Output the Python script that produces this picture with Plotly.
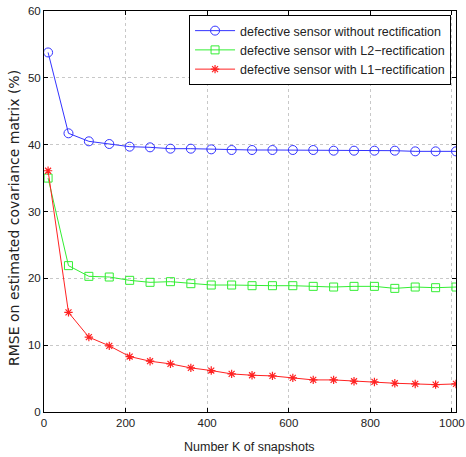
import plotly.graph_objects as go

K = [10, 60, 110, 160, 210, 260, 310, 360, 410, 460, 510, 560, 610, 660, 710, 760, 810, 860, 910, 960, 1010]
no_rect = [53.8, 41.7, 40.5, 40.1, 39.7, 39.6, 39.4, 39.4, 39.3, 39.2, 39.2, 39.2, 39.2, 39.2, 39.1, 39.1, 39.1, 39.1, 39.0, 39.0, 39.0]
l2_rect = [35.0, 21.9, 20.3, 20.2, 19.7, 19.4, 19.5, 19.2, 19.0, 19.0, 18.9, 18.9, 18.9, 18.8, 18.7, 18.8, 18.8, 18.5, 18.7, 18.6, 18.7]
l1_rect = [36.1, 14.9, 11.2, 9.9, 8.3, 7.6, 7.2, 6.6, 6.2, 5.7, 5.5, 5.4, 5.1, 4.8, 4.8, 4.6, 4.5, 4.3, 4.2, 4.1, 4.2]

names = ["defective sensor without rectification",
         "defective sensor with L2\u2212rectification",
         "defective sensor with L1\u2212rectification"]
x_ticks = [0, 200, 400, 600, 800, 1000]
y_ticks = [0, 10, 20, 30, 40, 50, 60]
x_title = "Number K of snapshots"
y_title = "RMSE on estimated covariance matrix (%)"

fig = go.Figure()
fig.add_trace(go.Scatter(x=K, y=no_rect, name=names[0], mode="lines+markers",
                         line=dict(color="#3333ff", width=1),
                         marker=dict(symbol="circle-open", size=9, color="#3333ff", line=dict(width=1))))
fig.add_trace(go.Scatter(x=K, y=l2_rect, name=names[1], mode="lines+markers",
                         line=dict(color="#33ee33", width=1),
                         marker=dict(symbol="square-open", size=8, color="#33ee33", line=dict(width=1))))
fig.add_trace(go.Scatter(x=K, y=l1_rect, name=names[2], mode="lines+markers",
                         line=dict(color="#ff2222", width=1),
                         marker=dict(symbol="asterisk-open", size=7, color="#ff2222", line=dict(width=1.2, color="#ff2222"))))

axis_common = dict(showline=True, linecolor="black", linewidth=1, mirror="ticks",
                   ticks="inside", ticklen=4, tickcolor="black", automargin=False,
                   showgrid=True, gridcolor="#c8c8c8", griddash="dot", gridwidth=1,
                   zeroline=False, tickfont=dict(size=11.5, color="#222"))

fig.update_layout(
    width=466, height=457,
    margin=dict(l=44, r=10, t=11, b=45),
    paper_bgcolor="white", plot_bgcolor="white",
    font=dict(family="Liberation Sans, Arial, sans-serif", color="#222"),
    xaxis=dict(range=[0, 1010], tickvals=x_ticks, **axis_common),
    yaxis=dict(range=[0, 60], tickvals=y_ticks, **axis_common),
    legend=dict(x=0.988, y=0.99, xanchor="right", yanchor="top",
                bordercolor="black", borderwidth=1, bgcolor="white",
                font=dict(size=12.5, color="#222"), tracegroupgap=0, itemwidth=40),
    showlegend=True,
    annotations=[
        dict(text=x_title, xref="paper", yref="paper", x=0.4976, y=-0.0865,
             xanchor="center", yanchor="middle", showarrow=False,
             font=dict(size=12.5, color="#222")),
        dict(text=y_title, xref="paper", yref="paper", x=-0.0728, y=0.4838,
             xanchor="center", yanchor="middle", textangle=-90, showarrow=False,
             font=dict(family="DejaVu Sans", size=14, color="#222")),
    ],
)

fig.write_html("out.html", config={"displayModeBar": False},
               post_script="document.body.style.margin='0';document.body.style.overflow='hidden';")
